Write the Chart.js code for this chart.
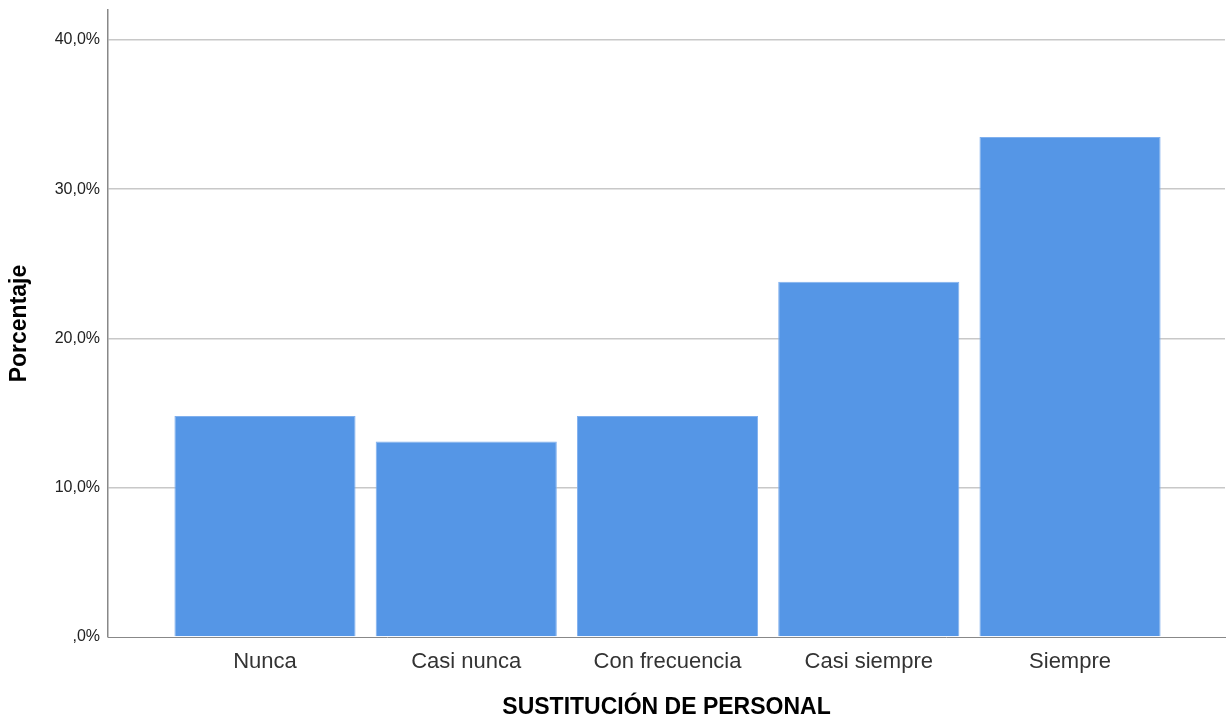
<!DOCTYPE html>
<html lang="es">
<head>
<meta charset="utf-8">
<title>Sustitución de personal</title>
<script src="https://cdn.jsdelivr.net/npm/chart.js@4"></script>
<style>
    html, body { margin: 0; padding: 0; background: #fff; }
    #wrap { width: 1232px; height: 721px; }
</style>
</head>
<body>
<div id="wrap"><canvas id="chart" width="1232" height="721"></canvas></div>
<script>
// Datos
const categories = ['Nunca', 'Casi nunca', 'Con frecuencia', 'Casi siempre', 'Siempre'];
const percentages = [14.8, 13.1, 14.8, 23.8, 33.5];
const yTicks = [0, 10, 20, 30, 40];

const fontFamily = '"Liberation Sans", Arial, sans-serif';

function formatPct(v) {
    if (v === 0) return ',0%';
    return v.toFixed(1).replace('.', ',') + '%';
}

document.addEventListener('DOMContentLoaded', () => {
    const ctx = document.getElementById('chart').getContext('2d');

    new Chart(ctx, {
        type: 'bar',
        data: {
            datasets: [{
                data: percentages.map((v, i) => ({ x: i, y: v })),
                backgroundColor: '#5596e6',
                borderColor: '#80b0ee',
                borderWidth: 1,
                barPercentage: 0.9,
                categoryPercentage: 1
            }]
        },
        options: {
            responsive: false,
            animation: false,
            layout: { padding: { left: 0, top: 10, right: 7, bottom: 0 } },
            plugins: {
                legend: { display: false },
                tooltip: { enabled: false }
            },
            scales: {
                x: {
                    type: 'linear',
                    offset: false,
                    min: -0.78,
                    max: 4.77,
                    grid: { display: false, drawTicks: false, offset: false },
                    border: { display: true, color: '#888888', width: 1 },
                    ticks: {
                        stepSize: 1,
                        includeBounds: false,
                        autoSkip: false,
                        maxRotation: 0,
                        padding: 12,
                        color: '#333333',
                        font: { family: fontFamily, size: 22 },
                        callback: (v) => categories[v] ?? ''
                    },
                    title: {
                        display: true,
                        text: 'SUSTITUCIÓN DE PERSONAL',
                        color: '#000000',
                        font: { family: fontFamily, size: 23, weight: 'bold' },
                        padding: { top: 0, bottom: 0 }
                    },
                    afterFit: (scale) => { scale.height = 84; }
                },
                y: {
                    min: 0,
                    max: 42,
                    grid: {
                        color: (c) => c.tick && c.tick.value === 0 ? 'rgba(0,0,0,0)' : '#c8c8c8',
                        lineWidth: 1.5,
                        drawTicks: false
                    },
                    border: { display: true, color: '#888888', width: 1.5 },
                    afterBuildTicks: (scale) => {
                        scale.ticks = yTicks.map(v => ({ value: v }));
                    },
                    ticks: {
                        padding: 8,
                        color: '#222222',
                        font: { family: fontFamily, size: 16 },
                        callback: (v) => formatPct(v)
                    },
                    title: {
                        display: true,
                        text: 'Porcentaje',
                        color: '#000000',
                        font: { family: fontFamily, size: 23, weight: 'bold' },
                        padding: { top: 6, bottom: 0 }
                    },
                    afterFit: (scale) => {
                        scale.width = 108;
                        scale.paddingTop = 0;
                        scale.paddingBottom = 0;
                    }
                }
            }
        }
    });
});
</script>
</body>
</html>
